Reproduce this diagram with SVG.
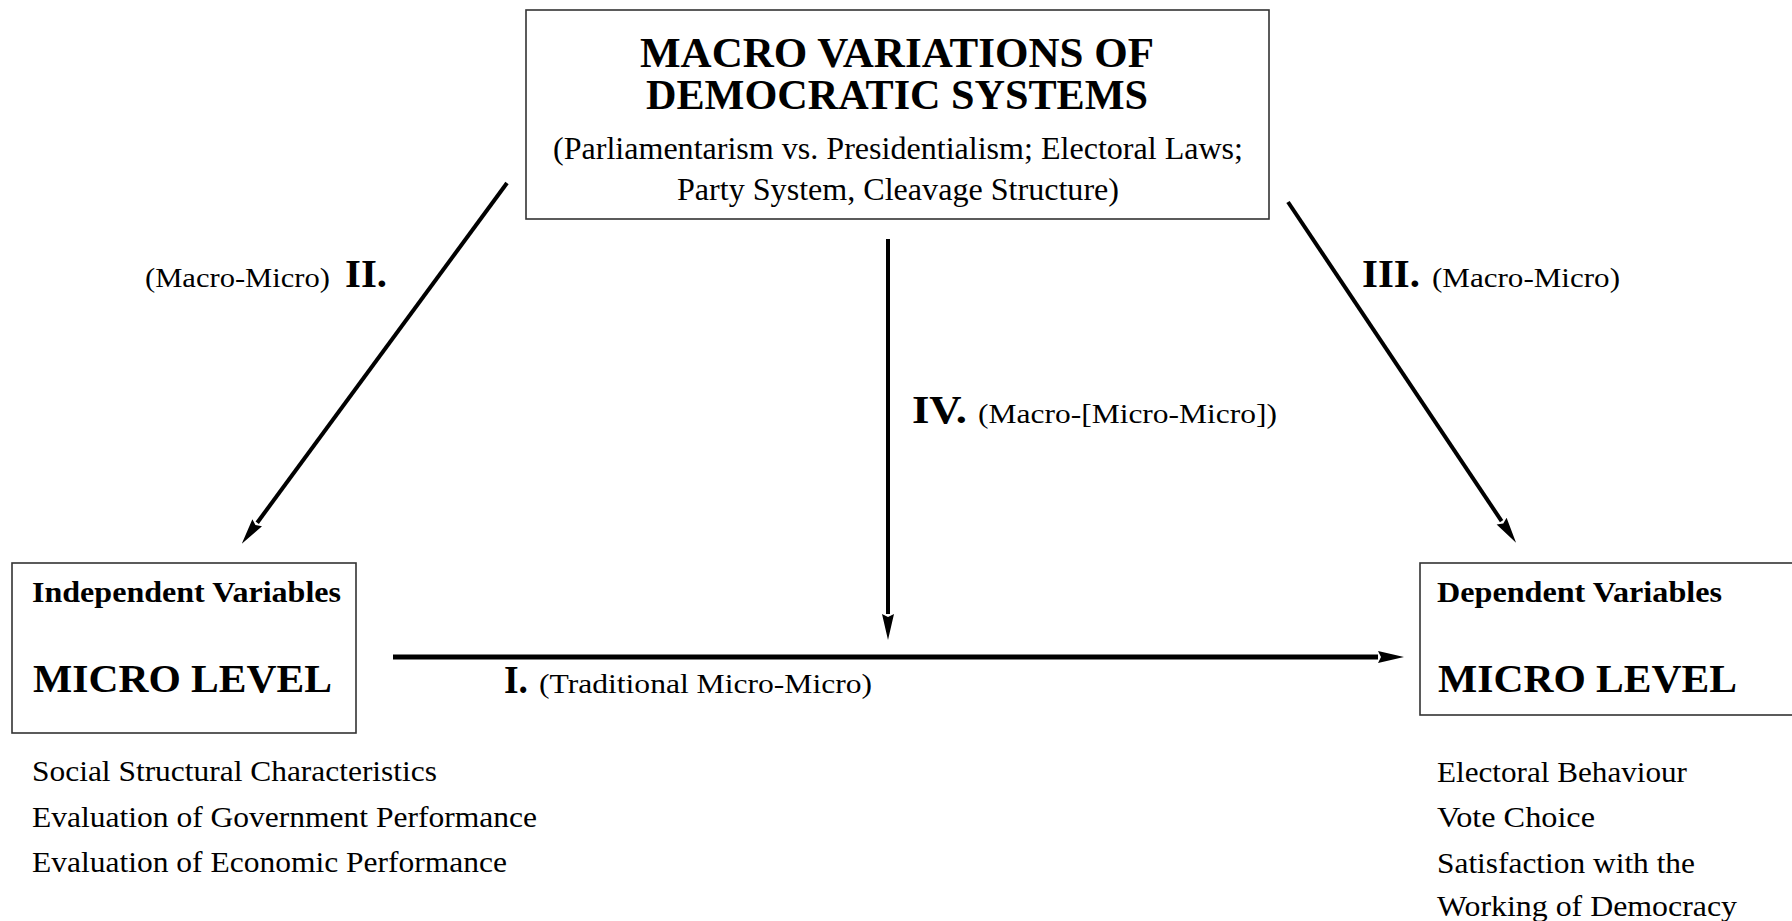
<svg xmlns="http://www.w3.org/2000/svg" width="1792" height="921" viewBox="0 0 1792 921">
<style>
  text { font-family: "Liberation Serif", "Times New Roman", serif; fill: #000; }
  .box { fill: #fff; stroke: #333; stroke-width: 1.6; }
  .arr { stroke: #000; stroke-width: 4; fill: none; }
  .t1 { font-size: 42px; font-weight: bold; }
  .t2 { font-size: 32px; }
  .hd { font-size: 30px; font-weight: bold; }
  .ml { font-size: 41px; font-weight: bold; }
  .li { font-size: 29px; }
  .rn { font-size: 41px; font-weight: bold; }
  .lb { font-size: 27px; }
</style>
<defs>
  <marker id="ah" markerUnits="userSpaceOnUse" markerWidth="26" markerHeight="13" viewBox="0 -6.5 26 13" refX="0" refY="0" orient="auto">
    <path d="M0,-6 L26,0 L0,6 L3,0 z" fill="#000"/>
  </marker>
</defs>
<rect width="1792" height="921" fill="#fff"/>

<g id="connectors">
  <path class="arr" d="M507,183 L257.2,522.7" marker-end="url(#ah)"/>
  <path class="arr" d="M1288,202 L1501.6,521.1" marker-end="url(#ah)"/>
  <path class="arr" d="M888,239 L888,614" marker-end="url(#ah)"/>
  <path class="arr" d="M393,657 L1378,657" marker-end="url(#ah)" style="stroke-width:5"/>
  <g id="label-II">
    <text class="lb" x="145" y="287" textLength="185" lengthAdjust="spacingAndGlyphs">(Macro-Micro)</text>
    <text class="rn" x="345" y="287" textLength="42" lengthAdjust="spacingAndGlyphs">II.</text>
  </g>
  <g id="label-III">
    <text class="rn" x="1362" y="287" textLength="58" lengthAdjust="spacingAndGlyphs">III.</text>
    <text class="lb" x="1432" y="287" textLength="188" lengthAdjust="spacingAndGlyphs">(Macro-Micro)</text>
  </g>
  <g id="label-IV">
    <text class="rn" x="912" y="423" textLength="55" lengthAdjust="spacingAndGlyphs">IV.</text>
    <text class="lb" x="978" y="423" textLength="299" lengthAdjust="spacingAndGlyphs">(Macro-[Micro-Micro])</text>
  </g>
  <g id="label-I">
    <text class="rn" x="504" y="693" textLength="24" lengthAdjust="spacingAndGlyphs">I.</text>
    <text class="lb" x="539" y="693" textLength="333" lengthAdjust="spacingAndGlyphs">(Traditional Micro-Micro)</text>
  </g>
</g>

<g id="macro">
  <rect class="box" x="526" y="10" width="743" height="209"/>
  <text class="t1" x="640" y="67" textLength="514" lengthAdjust="spacingAndGlyphs">MACRO VARIATIONS OF</text>
  <text class="t1" x="646" y="109" textLength="502" lengthAdjust="spacingAndGlyphs">DEMOCRATIC SYSTEMS</text>
  <text class="t2" x="553" y="159" textLength="690" lengthAdjust="spacingAndGlyphs">(Parliamentarism vs. Presidentialism; Electoral Laws;</text>
  <text class="t2" x="677" y="200" textLength="442" lengthAdjust="spacingAndGlyphs">Party System, Cleavage Structure)</text>
</g>

<g id="independent">
  <rect class="box" x="12" y="563" width="344" height="170"/>
  <text class="hd" x="32" y="602" textLength="309" lengthAdjust="spacingAndGlyphs">Independent Variables</text>
  <text class="ml" x="33" y="692" textLength="299" lengthAdjust="spacingAndGlyphs">MICRO LEVEL</text>
  <text class="li" x="32" y="781" textLength="405" lengthAdjust="spacingAndGlyphs">Social Structural Characteristics</text>
  <text class="li" x="32" y="827" textLength="505" lengthAdjust="spacingAndGlyphs">Evaluation of Government Performance</text>
  <text class="li" x="32" y="872" textLength="475" lengthAdjust="spacingAndGlyphs">Evaluation of Economic Performance</text>
</g>

<g id="dependent">
  <rect class="box" x="1420" y="563" width="400" height="152"/>
  <text class="hd" x="1437" y="602" textLength="285" lengthAdjust="spacingAndGlyphs">Dependent Variables</text>
  <text class="ml" x="1438" y="692" textLength="299" lengthAdjust="spacingAndGlyphs">MICRO LEVEL</text>
  <text class="li" x="1437" y="782" textLength="250" lengthAdjust="spacingAndGlyphs">Electoral Behaviour</text>
  <text class="li" x="1437" y="827" textLength="158" lengthAdjust="spacingAndGlyphs">Vote Choice</text>
  <text class="li" x="1437" y="873" textLength="258" lengthAdjust="spacingAndGlyphs">Satisfaction with the</text>
  <text class="li" x="1437" y="916" textLength="300" lengthAdjust="spacingAndGlyphs">Working of Democracy</text>
</g>
</svg>
